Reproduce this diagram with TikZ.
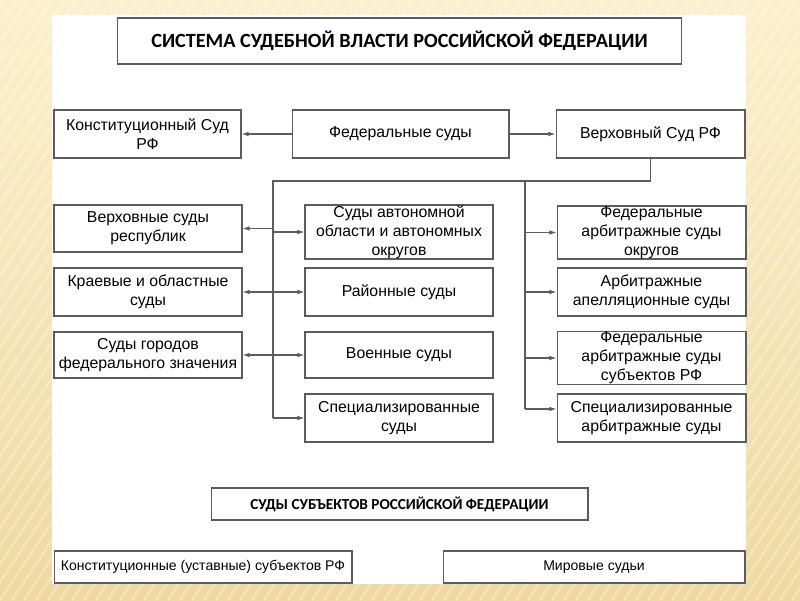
\documentclass[tikz,border=0pt]{standalone}
\usepackage{fontspec}
\setmainfont{Liberation Sans}
\newfontfamily\headfont{Carlito}
\usetikzlibrary{arrows.meta}

\definecolor{linegray}{HTML}{5C5C5C}
\definecolor{bglight}{HTML}{FCF0CC}
\definecolor{bgtan}{HTML}{EFD9A0}

\begin{document}
\begin{tikzpicture}[x=0.02cm,y=-0.02cm,
	box/.style={draw=linegray,line width=0.6pt,fill=white,align=center,inner sep=0pt,font=\fontsize{9}{10.8}\selectfont},
	smallbox/.style={box,minimum height=0.64cm,font=\fontsize{8}{10}\selectfont},
	headbox/.style={box,font=\headfont\bfseries\fontsize{11.5}{13}\selectfont},
	link/.style={draw=linegray,line width=0.6pt},
	arr/.style={link,-{Latex[length=4pt,width=2.6pt]}}]
	
	%background
	\useasboundingbox (0,0) rectangle (800,600);
	\begin{scope}
		\clip (0,0) rectangle (800,600);
		\shade[top color=bglight,bottom color=bgtan] (0,0) rectangle (800,600);
		\foreach \x in {-600,-588,...,800}{
			\draw[white,opacity=0.25,line width=1.5pt] (\x,600) -- ++(400,-600);}
	\end{scope}
	\fill[white] (52,15) rectangle (746,584);
	
	%title
	\node[headbox,minimum width=11.3cm,minimum height=0.92cm] (title) at (399.5,41) {СИСТЕМА СУДЕБНОЙ ВЛАСТИ РОССИЙСКОЙ ФЕДЕРАЦИИ};
	
	%first row
	\node[box,minimum width=3.74cm,minimum height=0.96cm] (konst) at (147.5,134) {Конституционный Суд\\РФ};
	\node[box,minimum width=4.34cm,minimum height=0.96cm] (fed) at (400.5,134) {Федеральные суды};
	\node[box,minimum width=3.78cm,minimum height=0.96cm] (verh) at (650.5,134) {Верховный Суд РФ};
	
	%left column
	\node[box,minimum width=3.76cm,minimum height=0.94cm] (vsr) at (148,228.5) {Верховные суды\\республик};
	\node[box,minimum width=3.76cm,minimum height=0.96cm] (kraev) at (148,292) {Краевые и областные\\суды};
	\node[box,minimum width=3.76cm,minimum height=0.92cm] (gorod) at (148,355) {Суды городов\\федерального значения};
	
	%middle column
	\node[box,minimum width=3.76cm,minimum height=1.08cm] (avt) at (399,232) {Суды автономной\\области и автономных\\округов};
	\node[box,minimum width=3.76cm,minimum height=0.96cm] (rayon) at (399,292) {Районные суды};
	\node[box,minimum width=3.76cm,minimum height=0.92cm] (voen) at (399,355) {Военные суды};
	\node[box,minimum width=3.76cm,minimum height=0.96cm] (spec) at (399,418) {Специализированные\\суды};
	
	%right column
	\node[box,minimum width=3.78cm,minimum height=1.06cm] (farb) at (651.5,232.5) {Федеральные\\арбитражные суды\\округов};
	\node[box,minimum width=3.78cm,minimum height=0.96cm] (apel) at (651.5,292) {Арбитражные\\апелляционные суды};
	\node[box,minimum width=3.78cm,minimum height=1.04cm] (fsub) at (651.5,358) {Федеральные\\арбитражные суды\\субъектов РФ};
	\node[box,minimum width=3.78cm,minimum height=0.96cm] (sarb) at (651.5,418) {Специализированные\\арбитражные суды};
	
	%courts of the subjects
	\node[headbox,minimum width=7.54cm,minimum height=0.64cm,font=\headfont\bfseries\fontsize{8.7}{10}\selectfont] (subj) at (399.5,504) {СУДЫ СУБЪЕКТОВ РОССИЙСКОЙ ФЕДЕРАЦИИ};
	\node[smallbox,minimum width=5.96cm] (ksub) at (203,567) {Конституционные (уставные) субъектов РФ};
	\node[smallbox,minimum width=6.04cm] (mir) at (594,567) {Мировые судьи};
	
	%connectors
	\draw[arr] (fed.west) -- (konst.east);
	\draw[arr] (fed.east) -- (verh.west);
	\coordinate (lv) at (273,181);
	\coordinate (rv) at (525,181);
	\coordinate (rend) at ([yshift=0.18cm]sarb.west);
	\draw[link] (verh.south) |- (lv) -- (lv |- spec.west);
	\draw[link] (rv) -- (rv |- rend);
	
	\foreach \n in {vsr,kraev,gorod}{
		\draw[arr] (lv |- \n.east) -- (\n.east);}
	\foreach \n in {avt,rayon,voen,spec}{
		\draw[arr] (lv |- \n.west) -- (\n.west);}
	\foreach \n in {farb,apel,fsub}{
		\draw[arr] (rv |- \n.west) -- (\n.west);}
	\draw[arr] (rv |- rend) -- (rend);
\end{tikzpicture}
\end{document}
